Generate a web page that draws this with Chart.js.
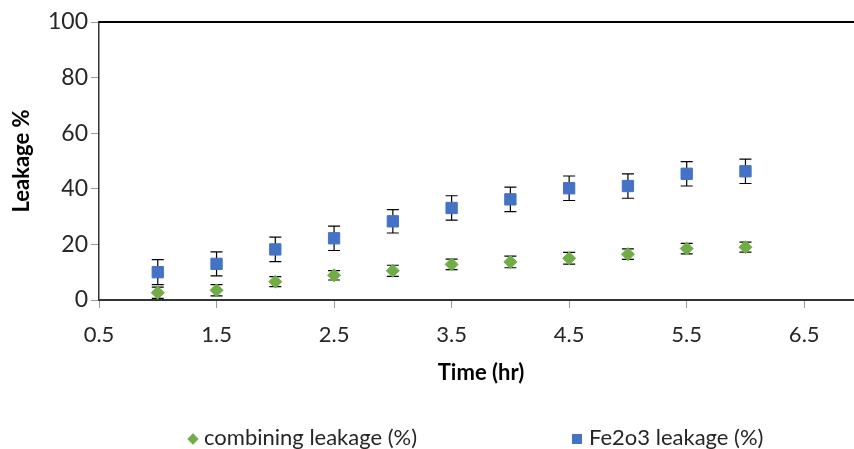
<!DOCTYPE html>
<html>
<head>
<meta charset="utf-8">
<script src="https://cdn.jsdelivr.net/npm/chart.js@4/dist/chart.umd.min.js"></script>
<style>
    body { margin: 0; background: #fff; overflow: hidden; }
    #wrap { position: relative; width: 872px; height: 449px; }
    #legend { position: absolute; top: 423px; left: 0; width: 854px; font-family: Lato, sans-serif; font-size: 22px; color: #262626; }
    .item { position: absolute; top: 0; white-space: nowrap; }
    .mark { display: inline-block; vertical-align: middle; margin-right: 7px; }
</style>
</head>
<body>
<div id="wrap">
    <canvas id="chart" width="872" height="449"></canvas>
    <div id="legend"></div>
</div>
<script>
// --- Data ---
const times = [1, 1.5, 2, 2.5, 3, 3.5, 4, 4.5, 5, 5.5, 6];
const combining = [2.6, 3.5, 6.6, 8.9, 10.5, 12.8, 13.7, 15.0, 16.5, 18.5, 19.0];
const combiningErr = [2.0, 2.0, 1.8, 1.7, 2.0, 1.9, 2.1, 2.1, 1.9, 1.9, 1.8];
const fe2o3 = [10.0, 13.0, 18.2, 22.2, 28.3, 33.1, 36.2, 40.2, 41.0, 45.4, 46.3];
const fe2o3Err = [4.5, 4.3, 4.4, 4.4, 4.2, 4.4, 4.4, 4.4, 4.4, 4.4, 4.4];
const xTicks = [0.5, 1.5, 2.5, 3.5, 4.5, 5.5, 6.5];
const yTicks = [0, 20, 40, 60, 80, 100];

const GREEN = '#70ad47';
const BLUE = '#4472c4';
const FONT = 'Lato, sans-serif';

// error bars drawn under the markers
const errorBars = {
    id: 'errorBars',
    beforeDatasetsDraw(chart) {
        const ctx = chart.ctx;
        const y = chart.scales.y;
        ctx.save();
        ctx.strokeStyle = '#000';
        ctx.lineWidth = 1.2;
        chart.data.datasets.forEach((ds, di) => {
            const meta = chart.getDatasetMeta(di);
            meta.data.forEach((pt, i) => {
                const e = ds.errors[i];
                const top = y.getPixelForValue(ds.data[i].y + e);
                const bot = y.getPixelForValue(ds.data[i].y - e);
                ctx.beginPath();
                ctx.moveTo(pt.x, top); ctx.lineTo(pt.x, bot);
                ctx.moveTo(pt.x - 6, top); ctx.lineTo(pt.x + 6, top);
                ctx.moveTo(pt.x - 6, bot); ctx.lineTo(pt.x + 6, bot);
                ctx.stroke();
            });
        });
        ctx.restore();
    }
};

// thick frame line along the top of the plot
const topLine = {
    id: 'topLine',
    afterDraw(chart) {
        const {ctx, chartArea} = chart;
        ctx.save();
        ctx.strokeStyle = '#000';
        ctx.lineWidth = 2;
        ctx.beginPath();
        ctx.moveTo(chartArea.left, chartArea.top);
        ctx.lineTo(chartArea.right, chartArea.top);
        ctx.stroke();
        ctx.restore();
    }
};

const chart = new Chart(document.getElementById('chart'), {
    type: 'scatter',
    data: {
        datasets: [{
            label: 'combining leakage (%)',
            data: times.map((t, i) => ({ x: t, y: combining[i] })),
            errors: combiningErr,
            backgroundColor: GREEN,
            borderColor: GREEN,
            pointStyle: 'rectRot',
            pointRadius: 6.5,
            borderWidth: 1
        }, {
            label: 'Fe2o3 leakage (%)',
            data: times.map((t, i) => ({ x: t, y: fe2o3[i] })),
            errors: fe2o3Err,
            backgroundColor: BLUE,
            borderColor: BLUE,
            pointStyle: 'rect',
            pointRadius: 8,
            borderWidth: 1
        }]
    },
    options: {
        responsive: false,
        animation: false,
        layout: { padding: { top: 22, right: 6, left: 0, bottom: 0 } },
        plugins: {
            legend: { display: false },
            tooltip: { enabled: false }
        },
        scales: {
            x: {
                type: 'linear',
                min: 0.5,
                max: 7,
                afterBuildTicks: s => { s.ticks = xTicks.map(v => ({ value: v })); },
                afterFit: s => { s.height = 149; },
                grid: { drawOnChartArea: false, tickLength: 8, color: '#999', tickWidth: 1 },
                border: { color: '#333', width: 2 },
                ticks: { color: '#262626', font: { family: FONT, size: 22 }, padding: 14, callback: v => v.toFixed(1) },
                title: { display: true, text: 'Time (hr)', color: '#000', font: { family: FONT, size: 22, weight: 'bold' }, padding: { top: 0, bottom: 63 } }
            },
            y: {
                min: 0,
                max: 100,
                afterBuildTicks: s => { s.ticks = yTicks.map(v => ({ value: v })); },
                afterFit: s => { s.width = 99; },
                grid: { drawOnChartArea: false, tickLength: 8, color: '#999', tickWidth: 1 },
                border: { color: '#333', width: 1.5 },
                ticks: { color: '#262626', font: { family: FONT, size: 23 }, padding: 3 },
                title: { display: true, text: 'Leakage %', color: '#000', font: { family: FONT, size: 22, weight: 'bold' }, padding: { top: 9, bottom: 0 } }
            }
        }
    },
    plugins: [errorBars, topLine]
});

// --- legend built from the datasets ---
const legendEl = document.getElementById('legend');
const legendLeft = [187, 572];
chart.data.datasets.forEach((ds, i) => {
    const item = document.createElement('div');
    item.className = 'item';
    item.style.left = legendLeft[i] + 'px';
    const mark = document.createElement('span');
    mark.className = 'mark';
    mark.style.background = ds.backgroundColor;
    if (ds.pointStyle === 'rectRot') {
        mark.style.width = '8px'; mark.style.height = '8px';
        mark.style.transform = 'rotate(45deg)';
        mark.style.marginLeft = '2px';
    } else {
        mark.style.width = '10px'; mark.style.height = '10px';
    }
    item.appendChild(mark);
    item.appendChild(document.createTextNode(ds.label));
    legendEl.appendChild(item);
});
</script>
</body>
</html>
